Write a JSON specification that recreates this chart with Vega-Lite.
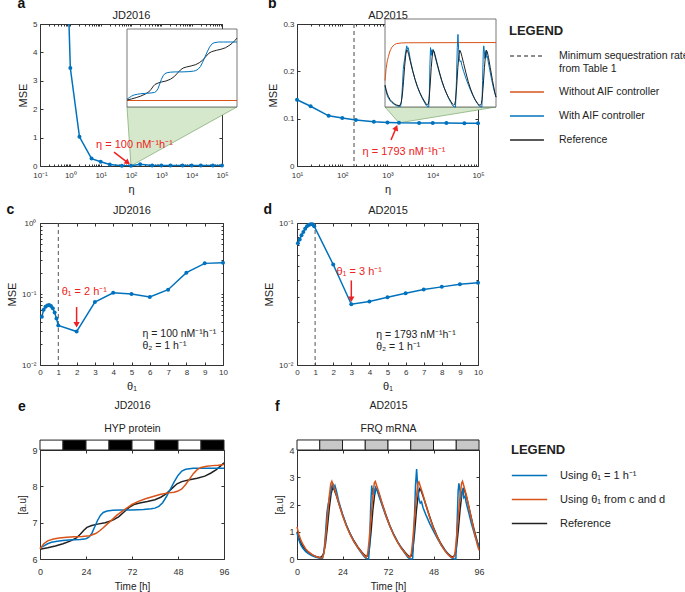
{
"$schema": "https://vega.github.io/schema/vega-lite/v6.json",
"padding": {"left": 5, "top": -4, "right": 0, "bottom": 0},
"config": {
 "font": "Liberation Sans",
 "view": {"stroke": "#333", "strokeWidth": 1},
 "axis": {"labelFont": "Liberation Sans", "labelFontSize": 8, "labelColor": "#333", "titleFont": "Liberation Sans", "titleFontSize": 11, "titleFontWeight": "normal", "titleColor": "#222", "grid": false, "domain": false, "ticks": true, "tickColor": "#333", "tickSize": -3, "labelPadding": 6, "titlePadding": 4, "labelOverlap": false, "labelFlush": false},
 "title": {"font": "Liberation Sans", "fontSize": 14, "fontWeight": "bold", "color": "#111", "anchor": "start", "frame": "bounds"},
 "legend": {"labelFont": "Liberation Sans", "titleFont": "Liberation Sans"}
},
"datasets": {
 "aMSE": [{"eta":0.5,"mse":14},{"eta":1,"mse":3.45},{"eta":2,"mse":1.03},{"eta":5,"mse":0.26},{"eta":10,"mse":0.15},{"eta":20,"mse":0.05},{"eta":50,"mse":0.01},{"eta":100,"mse":0.005},{"eta":200,"mse":0.06},{"eta":500,"mse":0.02},{"eta":1000,"mse":0.015},{"eta":2000,"mse":0.015},{"eta":5000,"mse":0.015},{"eta":10000,"mse":0.015},{"eta":20000,"mse":0.015},{"eta":50000,"mse":0.015},{"eta":100000,"mse":0.015}],
 "bMSE": [{"eta":10,"mse":0.14},{"eta":20,"mse":0.1263},{"eta":50,"mse":0.106},{"eta":100,"mse":0.1014},{"eta":200,"mse":0.097},{"eta":500,"mse":0.0935},{"eta":1000,"mse":0.092},{"eta":1793,"mse":0.0912},{"eta":5000,"mse":0.0911},{"eta":10000,"mse":0.0908},{"eta":20000,"mse":0.0906},{"eta":50000,"mse":0.0905},{"eta":100000,"mse":0.0905}],
 "cMSE": [{"theta":0.1,"mse":0.048},{"theta":0.2,"mse":0.06},{"theta":0.3,"mse":0.066},{"theta":0.4,"mse":0.069},{"theta":0.5,"mse":0.07},{"theta":0.6,"mse":0.068},{"theta":0.7,"mse":0.063},{"theta":0.8,"mse":0.055},{"theta":0.9,"mse":0.045},{"theta":1,"mse":0.036},{"theta":2,"mse":0.0296},{"theta":3,"mse":0.077},{"theta":4,"mse":0.104},{"theta":5,"mse":0.1},{"theta":6,"mse":0.091},{"theta":7,"mse":0.115},{"theta":8,"mse":0.2},{"theta":9,"mse":0.27},{"theta":10,"mse":0.275}],
 "dMSE": [{"theta":0.05,"mse":0.072},{"theta":0.15,"mse":0.0765},{"theta":0.25,"mse":0.082},{"theta":0.35,"mse":0.0865},{"theta":0.45,"mse":0.091},{"theta":0.55,"mse":0.095},{"theta":0.65,"mse":0.097},{"theta":0.75,"mse":0.098},{"theta":0.85,"mse":0.098},{"theta":0.95,"mse":0.095},{"theta":2,"mse":0.051},{"theta":3,"mse":0.0268},{"theta":4,"mse":0.028},{"theta":5,"mse":0.03},{"theta":6,"mse":0.032},{"theta":7,"mse":0.034},{"theta":8,"mse":0.0355},{"theta":9,"mse":0.037},{"theta":10,"mse":0.038}],
 "aNoAIF": [{"t":0,"v":6.25},{"t":96,"v":6.25}],
 "bNoAIF": [{"t":0,"v":1.2},{"t":1,"v":1.75},{"t":2,"v":2.1},{"t":3,"v":2.3},{"t":4,"v":2.5},{"t":5,"v":2.62},{"t":6,"v":2.72},{"t":8,"v":2.83},{"t":10,"v":2.88},{"t":14,"v":2.91},{"t":20,"v":2.92},{"t":96,"v":2.93}],
 "ld": [{"start":0,"end":12,"p":"L"},{"start":12,"end":24,"p":"D"},{"start":24,"end":36,"p":"L"},{"start":36,"end":48,"p":"D"},{"start":48,"end":60,"p":"L"},{"start":60,"end":72,"p":"D"},{"start":72,"end":84,"p":"L"},{"start":84,"end":96,"p":"D"}],
 "hyp": [
  {"t":0,"v":6.27,"s":"k"},{"t":4,"v":6.31,"s":"k"},{"t":8,"v":6.36,"s":"k"},{"t":12,"v":6.42,"s":"k"},{"t":16,"v":6.5,"s":"k"},{"t":19,"v":6.58,"s":"k"},{"t":21,"v":6.68,"s":"k"},{"t":23,"v":6.8,"s":"k"},{"t":24.5,"v":6.87,"s":"k"},{"t":27,"v":6.92,"s":"k"},{"t":30,"v":6.96,"s":"k"},{"t":34,"v":7.0,"s":"k"},{"t":38,"v":7.07,"s":"k"},{"t":41,"v":7.16,"s":"k"},{"t":44,"v":7.3,"s":"k"},{"t":46.5,"v":7.42,"s":"k"},{"t":49,"v":7.5,"s":"k"},{"t":52,"v":7.54,"s":"k"},{"t":56,"v":7.58,"s":"k"},{"t":60,"v":7.63,"s":"k"},{"t":63,"v":7.7,"s":"k"},{"t":66,"v":7.8,"s":"k"},{"t":69,"v":7.95,"s":"k"},{"t":71.5,"v":8.07,"s":"k"},{"t":74,"v":8.13,"s":"k"},{"t":78,"v":8.18,"s":"k"},{"t":82,"v":8.22,"s":"k"},{"t":86,"v":8.28,"s":"k"},{"t":89,"v":8.36,"s":"k"},{"t":92,"v":8.46,"s":"k"},{"t":94,"v":8.55,"s":"k"},{"t":96,"v":8.65,"s":"k"},
  {"t":0,"v":6.3,"s":"b"},{"t":2,"v":6.36,"s":"b"},{"t":4,"v":6.42,"s":"b"},{"t":6,"v":6.46,"s":"b"},{"t":9,"v":6.49,"s":"b"},{"t":12,"v":6.51,"s":"b"},{"t":15,"v":6.52,"s":"b"},{"t":18,"v":6.53,"s":"b"},{"t":21,"v":6.54,"s":"b"},{"t":24,"v":6.56,"s":"b"},{"t":25.5,"v":6.6,"s":"b"},{"t":27,"v":6.7,"s":"b"},{"t":28.5,"v":6.88,"s":"b"},{"t":30,"v":7.06,"s":"b"},{"t":31.5,"v":7.2,"s":"b"},{"t":33,"v":7.28,"s":"b"},{"t":35,"v":7.32,"s":"b"},{"t":38,"v":7.34,"s":"b"},{"t":42,"v":7.35,"s":"b"},{"t":48,"v":7.35,"s":"b"},{"t":54,"v":7.36,"s":"b"},{"t":58,"v":7.38,"s":"b"},{"t":60,"v":7.4,"s":"b"},{"t":62,"v":7.45,"s":"b"},{"t":64,"v":7.55,"s":"b"},{"t":66,"v":7.72,"s":"b"},{"t":68,"v":7.92,"s":"b"},{"t":70,"v":8.12,"s":"b"},{"t":72,"v":8.3,"s":"b"},{"t":74,"v":8.42,"s":"b"},{"t":76,"v":8.47,"s":"b"},{"t":80,"v":8.5,"s":"b"},{"t":84,"v":8.5,"s":"b"},{"t":90,"v":8.5,"s":"b"},{"t":96,"v":8.5,"s":"b"},
  {"t":0,"v":6.28,"s":"o"},{"t":2,"v":6.42,"s":"o"},{"t":4,"v":6.5,"s":"o"},{"t":7,"v":6.55,"s":"o"},{"t":10,"v":6.58,"s":"o"},{"t":14,"v":6.6,"s":"o"},{"t":18,"v":6.61,"s":"o"},{"t":22,"v":6.62,"s":"o"},{"t":26,"v":6.64,"s":"o"},{"t":29,"v":6.7,"s":"o"},{"t":31,"v":6.77,"s":"o"},{"t":33,"v":6.86,"s":"o"},{"t":35,"v":6.96,"s":"o"},{"t":37,"v":7.05,"s":"o"},{"t":40,"v":7.2,"s":"o"},{"t":43,"v":7.32,"s":"o"},{"t":46,"v":7.43,"s":"o"},{"t":48,"v":7.5,"s":"o"},{"t":51,"v":7.58,"s":"o"},{"t":55,"v":7.66,"s":"o"},{"t":59,"v":7.72,"s":"o"},{"t":63,"v":7.78,"s":"o"},{"t":67,"v":7.82,"s":"o"},{"t":70,"v":7.84,"s":"o"},{"t":72,"v":7.87,"s":"o"},{"t":74,"v":7.93,"s":"o"},{"t":76,"v":8.05,"s":"o"},{"t":78,"v":8.2,"s":"o"},{"t":80,"v":8.35,"s":"o"},{"t":82,"v":8.46,"s":"o"},{"t":84,"v":8.52,"s":"o"},{"t":87,"v":8.55,"s":"o"},{"t":90,"v":8.57,"s":"o"},{"t":93,"v":8.58,"s":"o"},{"t":96,"v":8.6,"s":"o"}
 ],
 "frq": [
  {"t":0,"v":1.0,"s":"k"},{"t":1,"v":0.78,"s":"k"},{"t":2,"v":0.6,"s":"k"},{"t":3,"v":0.47,"s":"k"},{"t":4.5,"v":0.33,"s":"k"},{"t":6,"v":0.24,"s":"k"},{"t":8,"v":0.15,"s":"k"},{"t":10,"v":0.09,"s":"k"},{"t":12,"v":0.06,"s":"k"},{"t":13,"v":0.08,"s":"k"},{"t":14,"v":0.2,"s":"k"},{"t":15,"v":0.55,"s":"k"},{"t":16,"v":1.15,"s":"k"},{"t":17,"v":1.85,"s":"k"},{"t":18,"v":2.4,"s":"k"},{"t":18.8,"v":2.6,"s":"k"},{"t":19.6,"v":2.55,"s":"k"},{"t":20.5,"v":2.38,"s":"k"},{"t":22,"v":2.05,"s":"k"},{"t":24,"v":1.62,"s":"k"},{"t":26,"v":1.25,"s":"k"},{"t":28,"v":0.93,"s":"k"},{"t":30,"v":0.67,"s":"k"},{"t":32,"v":0.45,"s":"k"},{"t":34,"v":0.27,"s":"k"},{"t":35.5,"v":0.15,"s":"k"},{"t":36.5,"v":0.09,"s":"k"},{"t":37.3,"v":0.12,"s":"k"},{"t":38,"v":0.3,"s":"k"},{"t":39,"v":0.95,"s":"k"},{"t":40,"v":1.8,"s":"k"},{"t":41,"v":2.4,"s":"k"},{"t":41.7,"v":2.58,"s":"k"},{"t":42.5,"v":2.52,"s":"k"},{"t":43.5,"v":2.32,"s":"k"},{"t":45,"v":2.0,"s":"k"},{"t":47,"v":1.6,"s":"k"},{"t":49,"v":1.22,"s":"k"},{"t":51,"v":0.9,"s":"k"},{"t":53,"v":0.64,"s":"k"},{"t":55,"v":0.42,"s":"k"},{"t":57,"v":0.25,"s":"k"},{"t":58.5,"v":0.13,"s":"k"},{"t":59.5,"v":0.08,"s":"k"},{"t":60.3,"v":0.12,"s":"k"},{"t":61,"v":0.3,"s":"k"},{"t":62,"v":0.95,"s":"k"},{"t":63,"v":1.8,"s":"k"},{"t":64,"v":2.4,"s":"k"},{"t":64.7,"v":2.58,"s":"k"},{"t":65.5,"v":2.5,"s":"k"},{"t":66.5,"v":2.3,"s":"k"},{"t":68,"v":1.98,"s":"k"},{"t":70,"v":1.55,"s":"k"},{"t":72,"v":1.15,"s":"k"},{"t":74,"v":0.82,"s":"k"},{"t":76,"v":0.55,"s":"k"},{"t":78,"v":0.33,"s":"k"},{"t":80,"v":0.17,"s":"k"},{"t":81.5,"v":0.09,"s":"k"},{"t":82.5,"v":0.08,"s":"k"},{"t":83.3,"v":0.15,"s":"k"},{"t":84,"v":0.35,"s":"k"},{"t":85,"v":1.0,"s":"k"},{"t":86,"v":1.8,"s":"k"},{"t":87,"v":2.4,"s":"k"},{"t":87.7,"v":2.58,"s":"k"},{"t":88.5,"v":2.5,"s":"k"},{"t":89.5,"v":2.25,"s":"k"},{"t":91,"v":1.8,"s":"k"},{"t":93,"v":1.2,"s":"k"},{"t":95,"v":0.65,"s":"k"},{"t":96,"v":0.45,"s":"k"},
  {"t":0,"v":0.95,"s":"b"},{"t":1,"v":0.7,"s":"b"},{"t":2,"v":0.52,"s":"b"},{"t":3,"v":0.4,"s":"b"},{"t":4.5,"v":0.28,"s":"b"},{"t":6,"v":0.2,"s":"b"},{"t":8,"v":0.12,"s":"b"},{"t":10,"v":0.06,"s":"b"},{"t":12,"v":0.03,"s":"b"},{"t":13.5,"v":0.03,"s":"b"},{"t":14.3,"v":0.3,"s":"b"},{"t":15,"v":0.9,"s":"b"},{"t":15.8,"v":1.7,"s":"b"},{"t":16.3,"v":1.95,"s":"b"},{"t":17,"v":2.2,"s":"b"},{"t":18,"v":2.55,"s":"b"},{"t":18.8,"v":2.78,"s":"b"},{"t":19.4,"v":2.62,"s":"b"},{"t":20,"v":2.7,"s":"b"},{"t":20.8,"v":2.5,"s":"b"},{"t":22,"v":2.12,"s":"b"},{"t":24,"v":1.65,"s":"b"},{"t":26,"v":1.25,"s":"b"},{"t":28,"v":0.92,"s":"b"},{"t":30,"v":0.65,"s":"b"},{"t":32,"v":0.42,"s":"b"},{"t":34,"v":0.22,"s":"b"},{"t":35.5,"v":0.08,"s":"b"},{"t":36.5,"v":0.02,"s":"b"},{"t":37.8,"v":0,"s":"b"},{"t":38.3,"v":0.5,"s":"b"},{"t":38.9,"v":2.0,"s":"b"},{"t":39.4,"v":2.7,"s":"b"},{"t":39.9,"v":2.35,"s":"b"},{"t":40.4,"v":2.6,"s":"b"},{"t":40.9,"v":2.35,"s":"b"},{"t":41.5,"v":2.62,"s":"b"},{"t":42.3,"v":2.5,"s":"b"},{"t":43.5,"v":2.25,"s":"b"},{"t":45,"v":1.95,"s":"b"},{"t":47,"v":1.55,"s":"b"},{"t":49,"v":1.2,"s":"b"},{"t":51,"v":0.9,"s":"b"},{"t":53,"v":0.64,"s":"b"},{"t":55,"v":0.4,"s":"b"},{"t":57,"v":0.2,"s":"b"},{"t":58.5,"v":0.06,"s":"b"},{"t":59.5,"v":0.01,"s":"b"},{"t":61,"v":0,"s":"b"},{"t":61.8,"v":1.2,"s":"b"},{"t":62.5,"v":2.7,"s":"b"},{"t":63.1,"v":3.3,"s":"b"},{"t":63.7,"v":2.6,"s":"b"},{"t":64.3,"v":2.2,"s":"b"},{"t":65,"v":2.05,"s":"b"},{"t":65.7,"v":2.1,"s":"b"},{"t":66.5,"v":1.88,"s":"b"},{"t":68,"v":1.62,"s":"b"},{"t":70,"v":1.3,"s":"b"},{"t":72,"v":1.02,"s":"b"},{"t":74,"v":0.76,"s":"b"},{"t":76,"v":0.52,"s":"b"},{"t":78,"v":0.32,"s":"b"},{"t":80,"v":0.15,"s":"b"},{"t":81.5,"v":0.04,"s":"b"},{"t":83,"v":0,"s":"b"},{"t":83.8,"v":0,"s":"b"},{"t":84.4,"v":1.2,"s":"b"},{"t":85,"v":2.5,"s":"b"},{"t":85.4,"v":2.78,"s":"b"},{"t":85.9,"v":2.55,"s":"b"},{"t":86.4,"v":2.2,"s":"b"},{"t":86.9,"v":2.45,"s":"b"},{"t":87.5,"v":2.58,"s":"b"},{"t":88,"v":2.25,"s":"b"},{"t":88.6,"v":2.3,"s":"b"},{"t":89.3,"v":2.05,"s":"b"},{"t":90.5,"v":1.72,"s":"b"},{"t":92,"v":1.3,"s":"b"},{"t":94,"v":0.82,"s":"b"},{"t":96,"v":0.45,"s":"b"},
  {"t":0,"v":1.18,"s":"o"},{"t":1,"v":0.9,"s":"o"},{"t":2,"v":0.7,"s":"o"},{"t":3,"v":0.55,"s":"o"},{"t":4.5,"v":0.38,"s":"o"},{"t":6,"v":0.27,"s":"o"},{"t":8,"v":0.16,"s":"o"},{"t":10,"v":0.09,"s":"o"},{"t":12,"v":0.05,"s":"o"},{"t":13.3,"v":0.04,"s":"o"},{"t":14.2,"v":0.2,"s":"o"},{"t":15,"v":0.7,"s":"o"},{"t":16,"v":1.5,"s":"o"},{"t":17,"v":2.3,"s":"o"},{"t":17.8,"v":2.75,"s":"o"},{"t":18.4,"v":2.85,"s":"o"},{"t":19.2,"v":2.7,"s":"o"},{"t":20.5,"v":2.42,"s":"o"},{"t":22,"v":2.05,"s":"o"},{"t":24,"v":1.6,"s":"o"},{"t":26,"v":1.22,"s":"o"},{"t":28,"v":0.9,"s":"o"},{"t":30,"v":0.64,"s":"o"},{"t":32,"v":0.43,"s":"o"},{"t":34,"v":0.25,"s":"o"},{"t":35.5,"v":0.12,"s":"o"},{"t":36.5,"v":0.05,"s":"o"},{"t":37.3,"v":0.2,"s":"o"},{"t":38,"v":0.65,"s":"o"},{"t":39,"v":1.5,"s":"o"},{"t":40,"v":2.3,"s":"o"},{"t":40.8,"v":2.8,"s":"o"},{"t":41.3,"v":2.85,"s":"o"},{"t":42,"v":2.7,"s":"o"},{"t":43.3,"v":2.42,"s":"o"},{"t":45,"v":2.02,"s":"o"},{"t":47,"v":1.58,"s":"o"},{"t":49,"v":1.2,"s":"o"},{"t":51,"v":0.88,"s":"o"},{"t":53,"v":0.62,"s":"o"},{"t":55,"v":0.4,"s":"o"},{"t":57,"v":0.22,"s":"o"},{"t":58.5,"v":0.1,"s":"o"},{"t":59.5,"v":0.05,"s":"o"},{"t":60.3,"v":0.2,"s":"o"},{"t":61,"v":0.65,"s":"o"},{"t":62,"v":1.5,"s":"o"},{"t":63,"v":2.3,"s":"o"},{"t":63.8,"v":2.78,"s":"o"},{"t":64.3,"v":2.83,"s":"o"},{"t":65,"v":2.68,"s":"o"},{"t":66.3,"v":2.4,"s":"o"},{"t":68,"v":1.98,"s":"o"},{"t":70,"v":1.52,"s":"o"},{"t":72,"v":1.12,"s":"o"},{"t":74,"v":0.8,"s":"o"},{"t":76,"v":0.52,"s":"o"},{"t":78,"v":0.3,"s":"o"},{"t":80,"v":0.14,"s":"o"},{"t":81.5,"v":0.06,"s":"o"},{"t":82.5,"v":0.05,"s":"o"},{"t":83.3,"v":0.2,"s":"o"},{"t":84,"v":0.65,"s":"o"},{"t":85,"v":1.5,"s":"o"},{"t":86,"v":2.3,"s":"o"},{"t":86.8,"v":2.78,"s":"o"},{"t":87.3,"v":2.85,"s":"o"},{"t":88,"v":2.68,"s":"o"},{"t":89.3,"v":2.35,"s":"o"},{"t":91,"v":1.8,"s":"o"},{"t":93,"v":1.15,"s":"o"},{"t":95,"v":0.55,"s":"o"},{"t":96,"v":0.32,"s":"o"}
 ]
},
"columns": 2,
"spacing": {"row": 7, "column": 22},
"resolve": {"scale": {"color": "independent", "strokeDash": "independent", "fill": "independent"}, "legend": {"color": "independent", "strokeDash": "independent", "fill": "independent"}},
"concat": [
 {
  "width": 182, "height": 142,
  "title": {"text": "a", "offset": -1},
  "resolve": {"scale": {"x": "independent", "y": "independent"}},
  "layer": [
   {"layer": [
    {"data": {"values": [{"x":73.8,"top":2.08,"bot":2.08},{"x":100,"top":2.08,"bot":0.005},{"x":312600,"top":2.08,"bot":2.08}]},
     "mark": {"type": "area", "color": "#d6e8cb", "stroke": "#86b07a", "strokeWidth": 0.8},
     "encoding": {"x": {"field": "x", "type": "quantitative", "axis": null}, "y": {"field": "top", "type": "quantitative", "axis": null}, "y2": {"field": "bot"}}},
    {"data": {"name": "aMSE"},
     "mark": {"type": "line", "color": "#0072BD", "strokeWidth": 1.5, "clip": true},
     "encoding": {
      "x": {"field": "eta", "type": "quantitative", "scale": {"type": "log", "domain": [0.1, 100000], "nice": false},
            "axis": {"orient": "bottom", "title": "η", "labelPadding": 7, "titlePadding": 4, "values": [0.1,0.2,0.3,0.4,0.5,0.6,0.7,0.8,0.9,1,2,3,4,5,6,7,8,9,10,20,30,40,50,60,70,80,90,100,200,300,400,500,600,700,800,900,1000,2000,3000,4000,5000,6000,7000,8000,9000,10000,20000,30000,40000,50000,60000,70000,80000,90000,100000],
                     "labelExpr": "datum.value===0.1?'10⁻¹':datum.value===1?'10⁰':datum.value===10?'10¹':datum.value===100?'10²':datum.value===1000?'10³':datum.value===10000?'10⁴':datum.value===100000?'10⁵':''", "tickSize": -2}},
      "y": {"field": "mse", "type": "quantitative", "scale": {"domain": [0, 5], "nice": false}, "axis": {"orient": "left", "title": "MSE", "values": [0,1,2,3,4,5]}}}},
    {"data": {"name": "aMSE"}, "transform": [{"filter": "datum.mse <= 5"}],
     "mark": {"type": "point", "filled": true, "size": 16, "color": "#0072BD", "opacity": 1},
     "encoding": {
      "x": {"field": "eta", "type": "quantitative", "axis": {"orient": "top", "labels": false, "title": "JD2016", "titlePadding": 3, "tickSize": -2, "values": [0.1,0.2,0.3,0.4,0.5,0.6,0.7,0.8,0.9,1,2,3,4,5,6,7,8,9,10,20,30,40,50,60,70,80,90,100,200,300,400,500,600,700,800,900,1000,2000,3000,4000,5000,6000,7000,8000,9000,10000,20000,30000,40000,50000,60000,70000,80000,90000,100000]}},
      "y": {"field": "mse", "type": "quantitative", "axis": {"orient": "right", "labels": false, "title": null, "values": [0,1,2,3,4,5]}}}},
    {"data": {"values": [{"x": 27.5, "y": 0.49, "x2": 78, "y2": 0.12}]},
     "mark": {"type": "rule", "color": "#ee2222", "strokeWidth": 1.5},
     "encoding": {"x": {"field": "x", "type": "quantitative", "axis": null}, "y": {"field": "y", "type": "quantitative", "axis": null}, "x2": {"field": "x2"}, "y2": {"field": "y2"}}},
    {"data": {"values": [{"x2": 78, "y2": 0.12}]},
     "mark": {"type": "point", "shape": "triangle-up", "angle": 128, "filled": true, "size": 40, "color": "#ee2222", "opacity": 1},
     "encoding": {"x": {"field": "x2", "type": "quantitative", "axis": null}, "y": {"field": "y2", "type": "quantitative", "axis": null}}},
    {"data": {"values": [{"x": 130, "y": 0.74, "label": "η = 100 nM⁻¹h⁻¹"}]},
     "mark": {"type": "text", "color": "#ee2222", "fontSize": 11, "baseline": "middle"},
     "encoding": {"x": {"field": "x", "type": "quantitative", "axis": null}, "y": {"field": "y", "type": "quantitative", "axis": null}, "text": {"field": "label"}}}
   ]},
   {"layer": [
    {"data": {"values": [{}]},
     "mark": {"type": "rect", "fill": "white", "stroke": "#555", "strokeWidth": 0.8},
     "encoding": {
      "x": {"datum": 0, "type": "quantitative", "scale": {"domain": [0, 96], "range": [87, 197], "nice": false}, "axis": {"orient": "bottom", "offset": -59, "values": [0,24,48,72,96], "labelFontSize": 6, "labelPadding": 2, "tickSize": -2, "title": null, "zindex": 1}},
      "x2": {"datum": 96},
      "y": {"datum": 6, "type": "quantitative", "scale": {"domain": [6, 9], "range": [83, 5], "nice": false}, "axis": {"orient": "left", "offset": -87, "values": [6,7,8,9], "labelFontSize": 6, "labelPadding": 2, "tickSize": -2, "title": null, "zindex": 1}},
      "y2": {"datum": 9}}},
    {"data": {"name": "aNoAIF"}, "mark": {"type": "line", "color": "#D95319", "strokeWidth": 1},
     "encoding": {"x": {"field": "t", "type": "quantitative", "axis": null}, "y": {"field": "v", "type": "quantitative", "axis": null}}},
    {"data": {"name": "hyp"}, "transform": [{"filter": "datum.s == 'k'"}], "mark": {"type": "line", "color": "#222", "strokeWidth": 1},
     "encoding": {"x": {"field": "t", "type": "quantitative", "axis": null}, "y": {"field": "v", "type": "quantitative", "axis": null}}},
    {"data": {"name": "hyp"}, "transform": [{"filter": "datum.s == 'b'"}], "mark": {"type": "line", "color": "#0072BD", "strokeWidth": 1},
     "encoding": {"x": {"field": "t", "type": "quantitative", "axis": null}, "y": {"field": "v", "type": "quantitative", "axis": null}}}
   ]}
  ]
 },
 {
  "width": 181, "height": 142,
  "title": {"text": "b", "offset": -1},
  "resolve": {"scale": {"x": "independent", "y": "independent"}},
  "layer": [
   {"layer": [
    {"data": {"values": [{"x":881,"top":0.1246,"bot":0.1246},{"x":1793,"top":0.1246,"bot":0.0912},{"x":250000,"top":0.1246,"bot":0.1246}]},
     "mark": {"type": "area", "color": "#d6e8cb", "stroke": "#86b07a", "strokeWidth": 0.8},
     "encoding": {"x": {"field": "x", "type": "quantitative", "axis": null}, "y": {"field": "top", "type": "quantitative", "axis": null}, "y2": {"field": "bot"}}},
    {"data": {"values": [{"eta": 182, "s": "Minimum sequestration rate from Table 1"}]},
     "mark": {"type": "rule", "strokeWidth": 1.2},
     "encoding": {
      "x": {"field": "eta", "type": "quantitative", "axis": null},
      "color": {"field": "s", "type": "nominal", "scale": {"domain": ["Minimum sequestration rate from Table 1", "Without AIF controller", "With AIF controller", "Reference"], "range": ["#666666", "#D95319", "#0072BD", "#222222"]},
                "legend": {"title": "LEGEND", "orient": "none", "legendX": 212, "legendY": 1, "symbolType": "stroke", "symbolSize": 1150, "symbolStrokeWidth": 1.5, "labelFontSize": 10.5, "labelColor": "#222", "titleFontSize": 13, "titleFontWeight": "bold", "titleColor": "#222", "titlePadding": 0, "rowPadding": 0, "labelOffset": 14, "labelLimit": 400,
                           "labelExpr": "datum.label == 'Minimum sequestration rate from Table 1' ? ['Minimum sequestration rate', 'from Table 1'] : datum.label"}},
      "strokeDash": {"field": "s", "type": "nominal", "scale": {"domain": ["Minimum sequestration rate from Table 1", "Without AIF controller", "With AIF controller", "Reference"], "range": [[4,3],[1,0],[1,0],[1,0]]},
                "legend": {"title": "LEGEND", "orient": "none", "legendX": 212, "legendY": 1, "symbolType": "stroke", "symbolSize": 1150, "symbolStrokeWidth": 1.5, "labelFontSize": 10.5, "labelColor": "#222", "titleFontSize": 13, "titleFontWeight": "bold", "titleColor": "#222", "titlePadding": 0, "rowPadding": 0, "labelOffset": 14, "labelLimit": 400,
                           "labelExpr": "datum.label == 'Minimum sequestration rate from Table 1' ? ['Minimum sequestration rate', 'from Table 1'] : datum.label"}}}},
    {"data": {"name": "bMSE"},
     "mark": {"type": "line", "color": "#0072BD", "strokeWidth": 1.5, "point": {"filled": true, "size": 16, "color": "#0072BD"}},
     "encoding": {
      "x": {"field": "eta", "type": "quantitative", "scale": {"type": "log", "domain": [10, 100000], "nice": false},
            "axis": {"orient": "bottom", "title": "η", "labelPadding": 7, "titlePadding": 4, "values": [10,20,30,40,50,60,70,80,90,100,200,300,400,500,600,700,800,900,1000,2000,3000,4000,5000,6000,7000,8000,9000,10000,20000,30000,40000,50000,60000,70000,80000,90000,100000],
                     "labelExpr": "datum.value===10?'10¹':datum.value===100?'10²':datum.value===1000?'10³':datum.value===10000?'10⁴':datum.value===100000?'10⁵':''", "tickSize": -2}},
      "y": {"field": "mse", "type": "quantitative", "scale": {"domain": [0, 0.3], "nice": false}, "axis": {"orient": "left", "title": "MSE", "values": [0, 0.1, 0.2, 0.3], "format": "~g"}}}},
    {"data": {"values": [{"x": 1194, "y": 0.0549, "x2": 1560, "y2": 0.081}]},
     "mark": {"type": "rule", "color": "#ee2222", "strokeWidth": 1.5},
     "encoding": {"x": {"field": "x", "type": "quantitative", "axis": null}, "y": {"field": "y", "type": "quantitative", "axis": null}, "x2": {"field": "x2"}, "y2": {"field": "y2"}}},
    {"data": {"values": [{"x2": 1560, "y2": 0.081}]},
     "mark": {"type": "point", "shape": "triangle-up", "angle": 22, "filled": true, "size": 40, "color": "#ee2222", "opacity": 1},
     "encoding": {"x": {"field": "x2", "type": "quantitative", "axis": null}, "y": {"field": "y2", "type": "quantitative", "axis": null}}},
    {"data": {"values": [{"x": 2317, "y": 0.0296, "label": "η = 1793 nM⁻¹h⁻¹"}]},
     "mark": {"type": "text", "color": "#ee2222", "fontSize": 11, "baseline": "middle"},
     "encoding": {
      "x": {"field": "x", "type": "quantitative", "axis": {"orient": "top", "labels": false, "title": "AD2015", "titlePadding": 3, "tickSize": -2, "values": [10,20,30,40,50,60,70,80,90,100,200,300,400,500,600,700,800,900,1000,2000,3000,4000,5000,6000,7000,8000,9000,10000,20000,30000,40000,50000,60000,70000,80000,90000,100000]}},
      "y": {"field": "y", "type": "quantitative", "axis": {"orient": "right", "labels": false, "title": null, "values": [0, 0.1, 0.2, 0.3]}},
      "text": {"field": "label"}}}
   ]},
   {"layer": [
    {"data": {"values": [{}]},
     "mark": {"type": "rect", "fill": "white", "stroke": "#555", "strokeWidth": 0.8},
     "encoding": {
      "x": {"datum": 0, "type": "quantitative", "scale": {"domain": [0, 96], "range": [88, 199], "nice": false}, "axis": {"orient": "bottom", "offset": -59, "values": [0,24,48,72,96], "labelFontSize": 6, "labelPadding": 2, "tickSize": -2, "title": null, "zindex": 1}},
      "x2": {"datum": 96},
      "y": {"datum": 0, "type": "quantitative", "scale": {"domain": [0, 4], "range": [83, -5], "nice": false}, "axis": {"orient": "left", "offset": -88, "values": [0,1,2,3,4], "labelFontSize": 6, "labelPadding": 2, "tickSize": -2, "title": null, "zindex": 1}},
      "y2": {"datum": 4}}},
    {"data": {"name": "bNoAIF"}, "mark": {"type": "line", "color": "#D95319", "strokeWidth": 1},
     "encoding": {"x": {"field": "t", "type": "quantitative", "axis": null}, "y": {"field": "v", "type": "quantitative", "axis": null}}},
    {"data": {"name": "frq"}, "transform": [{"filter": "datum.s == 'b'"}], "mark": {"type": "line", "color": "#0072BD", "strokeWidth": 1},
     "encoding": {"x": {"field": "t", "type": "quantitative", "axis": null}, "y": {"field": "v", "type": "quantitative", "axis": null}}},
    {"data": {"name": "frq"}, "transform": [{"filter": "datum.s == 'k'"}], "mark": {"type": "line", "color": "#222", "strokeWidth": 1},
     "encoding": {"x": {"field": "t", "type": "quantitative", "axis": null}, "y": {"field": "v", "type": "quantitative", "axis": null}}}
   ]}
  ]
 },
 {
  "width": 183, "height": 142,
  "title": {"text": "c", "offset": -12},
  "layer": [
   {"mark": {"type": "rule", "color": "#555", "strokeDash": [4, 3], "strokeWidth": 1},
    "data": {"values": [{"theta": 1}]},
    "encoding": {"x": {"field": "theta", "type": "quantitative", "axis": null}}},
   {"data": {"name": "cMSE"},
    "mark": {"type": "line", "color": "#0072BD", "strokeWidth": 1.5, "point": {"filled": true, "size": 16, "color": "#0072BD"}},
    "encoding": {
     "x": {"field": "theta", "type": "quantitative", "scale": {"domain": [0, 10], "nice": false}, "axis": {"orient": "bottom", "title": "θ₁", "values": [0,1,2,3,4,5,6,7,8,9,10]}},
     "y": {"field": "mse", "type": "quantitative", "scale": {"type": "log", "domain": [0.01, 1], "nice": false},
           "axis": {"orient": "left", "title": "MSE", "values": [0.01,0.02,0.03,0.04,0.05,0.06,0.07,0.08,0.09,0.1,0.2,0.3,0.4,0.5,0.6,0.7,0.8,0.9,1], "labelExpr": "datum.value===0.01?'10⁻²':datum.value===0.1?'10⁻¹':datum.value===1?'10⁰':''", "tickSize": -2}}}},
   {"data": {"values": [{"x": 2, "y": 0.0655, "x2": 2, "y2": 0.038}]},
    "mark": {"type": "rule", "color": "#ee2222", "strokeWidth": 1.5},
    "encoding": {"x": {"field": "x", "type": "quantitative", "axis": null}, "y": {"field": "y", "type": "quantitative", "axis": null}, "x2": {"field": "x2"}, "y2": {"field": "y2"}}},
   {"data": {"values": [{"x2": 2, "y2": 0.037}]},
    "mark": {"type": "point", "shape": "triangle-down", "filled": true, "size": 40, "color": "#ee2222", "opacity": 1},
    "encoding": {"x": {"field": "x2", "type": "quantitative", "axis": null}, "y": {"field": "y2", "type": "quantitative", "axis": null}}},
   {"data": {"values": [{"x": 2.42, "y": 0.106, "label": "θ₁ = 2 h⁻¹"}]},
    "mark": {"type": "text", "color": "#ee2222", "fontSize": 11, "baseline": "middle"},
    "encoding": {"x": {"field": "x", "type": "quantitative", "axis": null}, "y": {"field": "y", "type": "quantitative", "axis": null}, "text": {"field": "label"}}},
   {"data": {"values": [{"x": 5.6, "y": 0.0271, "label": "η  = 100 nM⁻¹h⁻¹"}, {"x": 5.6, "y": 0.0184, "label": "θ₂ = 1 h⁻¹"}]},
    "mark": {"type": "text", "color": "#222", "fontSize": 10.5, "align": "left", "baseline": "middle"},
    "encoding": {
     "x": {"field": "x", "type": "quantitative", "axis": {"orient": "top", "labels": false, "title": "JD2016", "titlePadding": 7, "values": [0,1,2,3,4,5,6,7,8,9,10]}},
     "y": {"field": "y", "type": "quantitative", "axis": {"orient": "right", "labels": false, "title": null, "tickSize": -2, "values": [0.01,0.02,0.03,0.04,0.05,0.06,0.07,0.08,0.09,0.1,0.2,0.3,0.4,0.5,0.6,0.7,0.8,0.9,1]}},
     "text": {"field": "label"}}}
  ]
 },
 {
  "width": 181, "height": 142,
  "title": {"text": "d", "offset": -12},
  "layer": [
   {"mark": {"type": "rule", "color": "#555", "strokeDash": [4, 3], "strokeWidth": 1},
    "data": {"values": [{"theta": 1}]},
    "encoding": {"x": {"field": "theta", "type": "quantitative", "axis": null}}},
   {"data": {"name": "dMSE"},
    "mark": {"type": "line", "color": "#0072BD", "strokeWidth": 1.5, "point": {"filled": true, "size": 16, "color": "#0072BD"}},
    "encoding": {
     "x": {"field": "theta", "type": "quantitative", "scale": {"domain": [0, 10], "nice": false}, "axis": {"orient": "bottom", "title": "θ₁", "values": [0,1,2,3,4,5,6,7,8,9,10]}},
     "y": {"field": "mse", "type": "quantitative", "scale": {"type": "log", "domain": [0.01, 0.1], "nice": false},
           "axis": {"orient": "left", "title": "MSE", "values": [0.01,0.02,0.03,0.04,0.05,0.06,0.07,0.08,0.09,0.1], "labelExpr": "datum.value===0.01?'10⁻²':datum.value===0.1?'10⁻¹':''", "tickSize": -2}}}},
   {"data": {"values": [{"x": 3, "y": 0.0394, "x2": 3, "y2": 0.0292}]},
    "mark": {"type": "rule", "color": "#ee2222", "strokeWidth": 1.5},
    "encoding": {"x": {"field": "x", "type": "quantitative", "axis": null}, "y": {"field": "y", "type": "quantitative", "axis": null}, "x2": {"field": "x2"}, "y2": {"field": "y2"}}},
   {"data": {"values": [{"x2": 3, "y2": 0.029}]},
    "mark": {"type": "point", "shape": "triangle-down", "filled": true, "size": 40, "color": "#ee2222", "opacity": 1},
    "encoding": {"x": {"field": "x2", "type": "quantitative", "axis": null}, "y": {"field": "y2", "type": "quantitative", "axis": null}}},
   {"data": {"values": [{"x": 3.44, "y": 0.045, "label": "θ₁ = 3 h⁻¹"}]},
    "mark": {"type": "text", "color": "#ee2222", "fontSize": 11, "baseline": "middle"},
    "encoding": {"x": {"field": "x", "type": "quantitative", "axis": null}, "y": {"field": "y", "type": "quantitative", "axis": null}, "text": {"field": "label"}}},
   {"data": {"values": [{"x": 4.38, "y": 0.0162, "label": "η  = 1793 nM⁻¹h⁻¹"}, {"x": 4.38, "y": 0.01337, "label": "θ₂ = 1 h⁻¹"}]},
    "mark": {"type": "text", "color": "#222", "fontSize": 10.5, "align": "left", "baseline": "middle"},
    "encoding": {
     "x": {"field": "x", "type": "quantitative", "axis": {"orient": "top", "labels": false, "title": "AD2015", "titlePadding": 7, "values": [0,1,2,3,4,5,6,7,8,9,10]}},
     "y": {"field": "y", "type": "quantitative", "axis": {"orient": "right", "labels": false, "title": null, "tickSize": -2, "values": [0.01,0.02,0.03,0.04,0.05,0.06,0.07,0.08,0.09,0.1]}},
     "text": {"field": "label"}}}
  ]
 },
 {
  "width": 184, "height": 109,
  "title": {"text": "e", "offset": -13},
  "layer": [
   {"data": {"name": "ld"},
    "mark": {"type": "rect", "stroke": "#222", "strokeWidth": 1},
    "encoding": {
     "x": {"field": "start", "type": "quantitative", "scale": {"domain": [0, 96], "nice": false}, "axis": {"orient": "top", "labels": false, "values": [0,24,48,72,96], "title": ["JD2016", "HYP protein"], "titleLineHeight": 23, "titlePadding": 16, "titleFontSize": 10.5}},
     "x2": {"field": "end"},
     "y": {"datum": 9, "type": "quantitative", "scale": {"domain": [6, 9], "nice": false, "zero": false}, "axis": {"orient": "right", "labels": false, "title": null, "values": [6,7,8,9]}}, "y2": {"datum": 9.273},
     "fill": {"field": "p", "type": "nominal", "scale": {"domain": ["L", "D"], "range": ["#ffffff", "#000000"]}, "legend": null}}},
   {"data": {"name": "hyp"},
    "mark": {"type": "line", "strokeWidth": 1.5},
    "encoding": {
     "x": {"field": "t", "type": "quantitative", "scale": {"domain": [0, 96], "nice": false}, "axis": {"orient": "bottom", "title": "Time [h]", "values": [0,24,48,72,96], "labelFontSize": 9, "titleFontSize": 10, "labelPadding": 11, "titlePadding": 5, "labelExpr": "datum.value==48?'72':datum.value==72?'48':datum.label"}},
     "y": {"field": "v", "type": "quantitative", "scale": {"domain": [6, 9], "nice": false, "zero": false}, "axis": {"orient": "left", "title": "[a.u]", "values": [6,7,8,9], "labelFontSize": 9, "titleFontSize": 10}},
     "color": {"field": "s", "type": "nominal", "scale": {"domain": ["b", "o", "k"], "range": ["#0072BD", "#D95319", "#222222"]}, "legend": null}}}
  ]
 },
 {
  "width": 182, "height": 109,
  "title": {"text": "f", "offset": -13},
  "layer": [
   {"data": {"name": "ld"},
    "mark": {"type": "rect", "stroke": "#222", "strokeWidth": 1},
    "encoding": {
     "x": {"field": "start", "type": "quantitative", "scale": {"domain": [0, 96], "nice": false}, "axis": {"orient": "top", "labels": false, "values": [0,24,48,72,96], "title": ["AD2015", "FRQ mRNA"], "titleLineHeight": 23, "titlePadding": 16, "titleFontSize": 10.5}},
     "x2": {"field": "end"},
     "y": {"datum": 4, "type": "quantitative", "scale": {"domain": [0, 4], "nice": false}, "axis": {"orient": "right", "labels": false, "title": null, "values": [0,1,2,3,4]}}, "y2": {"datum": 4.368},
     "fill": {"field": "p", "type": "nominal", "scale": {"domain": ["L", "D"], "range": ["#ffffff", "#c8c8c8"]}, "legend": null}}},
   {"data": {"name": "frq"},
    "mark": {"type": "line", "strokeWidth": 1.5},
    "encoding": {
     "x": {"field": "t", "type": "quantitative", "scale": {"domain": [0, 96], "nice": false}, "axis": {"orient": "bottom", "title": "Time [h]", "values": [0,24,48,72,96], "labelFontSize": 9, "titleFontSize": 10, "labelPadding": 11, "titlePadding": 5, "labelExpr": "datum.value==48?'72':datum.value==72?'48':datum.label"}},
     "y": {"field": "v", "type": "quantitative", "scale": {"domain": [0, 4], "nice": false}, "axis": {"orient": "left", "title": "[a.u]", "values": [0,1,2,3,4], "labelFontSize": 9, "titleFontSize": 10}},
     "color": {"field": "s", "type": "nominal", "scale": {"domain": ["b", "o", "k"], "range": ["#0072BD", "#D95319", "#222222"]},
               "legend": {"title": "LEGEND", "orient": "none", "legendX": 214, "legendY": -6, "symbolType": "stroke", "symbolSize": 1250, "symbolStrokeWidth": 1.5, "labelFontSize": 11, "labelColor": "#222", "titleFontSize": 13, "titleFontWeight": "bold", "titleColor": "#222", "titlePadding": 0, "rowPadding": 0, "labelOffset": 12, "labelLimit": 400,
                          "labelExpr": "datum.value == 'b' ? 'Using θ₁ = 1 h⁻¹' : datum.value == 'o' ? 'Using θ₁ from c and d' : 'Reference'"}}}}
  ]
 }
]
}
